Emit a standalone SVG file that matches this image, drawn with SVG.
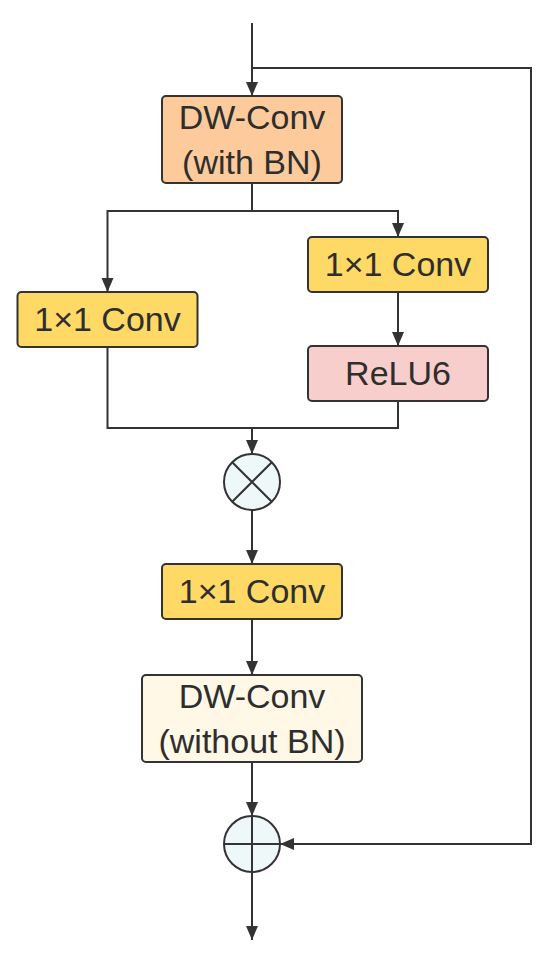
<svg xmlns="http://www.w3.org/2000/svg" width="550" height="954" viewBox="0 0 550 954">
<style>
.box{stroke:#333;stroke-width:2}
.t{font-family:"Liberation Sans",Arial,sans-serif;font-size:34px;fill:#2e2e2e;text-anchor:middle}
.ln{fill:none;stroke:#333;stroke-width:2}
.op{fill:#eff8f9;stroke:#333;stroke-width:2}
</style>
<defs>
<marker id="ah" markerUnits="userSpaceOnUse" markerWidth="15" markerHeight="13" refX="14" refY="6.5" orient="auto">
<path d="M0,0.5 L14,6.5 L0,12.5 Z" fill="#333"/>
</marker>
</defs>
<rect width="550" height="954" fill="#fff"/>
<g id="connectors" class="ln">
<path d="M252,23 V96" marker-end="url(#ah)"/>
<path d="M252,68 H531 V844 H280" marker-end="url(#ah)"/>
<path d="M252,183 V211"/>
<path d="M252,211 H107.5 V292" marker-end="url(#ah)"/>
<path d="M252,211 H398 V237" marker-end="url(#ah)"/>
<path d="M398,292 V346" marker-end="url(#ah)"/>
<path d="M107.5,347 V428 H398 V401"/>
<path d="M252,428 V454" marker-end="url(#ah)"/>
<path d="M252,510 V564" marker-end="url(#ah)"/>
<path d="M252,619 V675" marker-end="url(#ah)"/>
<path d="M252,762 V816" marker-end="url(#ah)"/>
<path d="M252,872 V940" marker-end="url(#ah)"/>
</g>
<g id="dwconv_bn">
<rect class="box" x="162" y="96" width="180" height="87" rx="4" fill="#fdcb9b"/>
<text class="t" x="252" y="129">DW-Conv</text>
<text class="t" x="252" y="174">(with BN)</text>
</g>
<g id="conv_left">
<rect class="box" x="17.5" y="292" width="180" height="55" rx="4" fill="#ffd966"/>
<text class="t" x="107.5" y="331">1×1 Conv</text>
</g>
<g id="conv_right">
<rect class="box" x="308" y="237" width="180" height="55" rx="4" fill="#ffd966"/>
<text class="t" x="398" y="276">1×1 Conv</text>
</g>
<g id="relu6">
<rect class="box" x="308" y="346" width="180" height="55" rx="4" fill="#f8cecc"/>
<text class="t" x="398" y="385">ReLU6</text>
</g>
<g id="multiply">
<circle class="op" cx="252" cy="482" r="28"/>
<path class="ln" d="M232.2,462.2 L271.8,501.8 M271.8,462.2 L232.2,501.8"/>
</g>
<g id="conv_bottom">
<rect class="box" x="162" y="564" width="180" height="55" rx="4" fill="#ffd966"/>
<text class="t" x="252" y="603">1×1 Conv</text>
</g>
<g id="dwconv_nobn">
<rect class="box" x="142" y="675" width="220" height="87" rx="4" fill="#fff8e6"/>
<text class="t" x="252" y="708">DW-Conv</text>
<text class="t" x="252" y="753">(without BN)</text>
</g>
<g id="add">
<circle class="op" cx="252" cy="844" r="28"/>
<path class="ln" d="M224,844 H280 M252,816 V872"/>
</g>
</svg>
